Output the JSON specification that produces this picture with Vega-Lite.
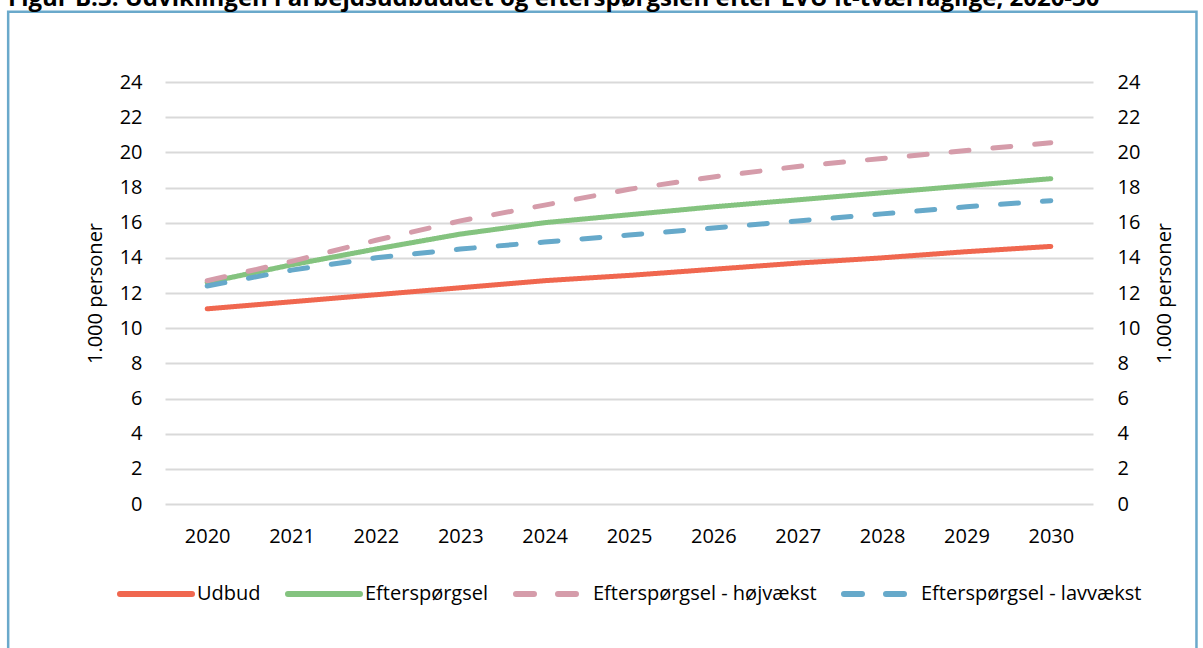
{
  "$schema": "https://vega.github.io/schema/vega-lite/v6.json",
  "width": 928,
  "height": 422,
  "autosize": {"type": "none"},
  "padding": {"left": 165, "top": 82, "right": 110, "bottom": 144},
  "background": "white",
  "config": {"view": {"stroke": null}, "font": "Open Sans", "legend": {"layout": {"bottom": {"anchor": "middle"}}}},
  "title": {
    "text": "Figur B.3: Udviklingen i arbejdsudbuddet og efterspørgslen efter LVU it-tværfaglige, 2020-30",
    "anchor": "start",
    "frame": "group",
    "font": "Open Sans",
    "fontSize": 24,
    "fontWeight": "bold",
    "color": "#000000",
    "baseline": "alphabetic",
    "dx": -157,
    "dy": 26,
    "offset": 6
  },
  "data": {
    "values": [
      {"series": "Udbud", "year": "2020", "value": 11.1},
      {"series": "Udbud", "year": "2021", "value": 11.5},
      {"series": "Udbud", "year": "2022", "value": 11.9},
      {"series": "Udbud", "year": "2023", "value": 12.3},
      {"series": "Udbud", "year": "2024", "value": 12.7},
      {"series": "Udbud", "year": "2025", "value": 13.0},
      {"series": "Udbud", "year": "2026", "value": 13.35},
      {"series": "Udbud", "year": "2027", "value": 13.7},
      {"series": "Udbud", "year": "2028", "value": 14.0},
      {"series": "Udbud", "year": "2029", "value": 14.35},
      {"series": "Udbud", "year": "2030", "value": 14.65},
      {"series": "Efterspørgsel", "year": "2020", "value": 12.6},
      {"series": "Efterspørgsel", "year": "2021", "value": 13.6},
      {"series": "Efterspørgsel", "year": "2022", "value": 14.5},
      {"series": "Efterspørgsel", "year": "2023", "value": 15.35},
      {"series": "Efterspørgsel", "year": "2024", "value": 16.0},
      {"series": "Efterspørgsel", "year": "2025", "value": 16.45},
      {"series": "Efterspørgsel", "year": "2026", "value": 16.9},
      {"series": "Efterspørgsel", "year": "2027", "value": 17.3},
      {"series": "Efterspørgsel", "year": "2028", "value": 17.7},
      {"series": "Efterspørgsel", "year": "2029", "value": 18.1},
      {"series": "Efterspørgsel", "year": "2030", "value": 18.5},
      {"series": "Efterspørgsel - højvækst", "year": "2020", "value": 12.7},
      {"series": "Efterspørgsel - højvækst", "year": "2021", "value": 13.8},
      {"series": "Efterspørgsel - højvækst", "year": "2022", "value": 15.0},
      {"series": "Efterspørgsel - højvækst", "year": "2023", "value": 16.1},
      {"series": "Efterspørgsel - højvækst", "year": "2024", "value": 17.0},
      {"series": "Efterspørgsel - højvækst", "year": "2025", "value": 17.9},
      {"series": "Efterspørgsel - højvækst", "year": "2026", "value": 18.6},
      {"series": "Efterspørgsel - højvækst", "year": "2027", "value": 19.2},
      {"series": "Efterspørgsel - højvækst", "year": "2028", "value": 19.65},
      {"series": "Efterspørgsel - højvækst", "year": "2029", "value": 20.1},
      {"series": "Efterspørgsel - højvækst", "year": "2030", "value": 20.55},
      {"series": "Efterspørgsel - lavvækst", "year": "2020", "value": 12.4},
      {"series": "Efterspørgsel - lavvækst", "year": "2021", "value": 13.3},
      {"series": "Efterspørgsel - lavvækst", "year": "2022", "value": 14.0},
      {"series": "Efterspørgsel - lavvækst", "year": "2023", "value": 14.5},
      {"series": "Efterspørgsel - lavvækst", "year": "2024", "value": 14.9},
      {"series": "Efterspørgsel - lavvækst", "year": "2025", "value": 15.3},
      {"series": "Efterspørgsel - lavvækst", "year": "2026", "value": 15.7},
      {"series": "Efterspørgsel - lavvækst", "year": "2027", "value": 16.1},
      {"series": "Efterspørgsel - lavvækst", "year": "2028", "value": 16.5},
      {"series": "Efterspørgsel - lavvækst", "year": "2029", "value": 16.9},
      {"series": "Efterspørgsel - lavvækst", "year": "2030", "value": 17.25}
    ]
  },
  "resolve": {"scale": {"x": "independent", "y": "independent"}},
  "layer": [
    {
      "data": {"values": [{}]},
      "mark": {"type": "rect", "fill": null, "fillOpacity": 0, "stroke": "#6AA9CB", "strokeWidth": 2.5, "clip": false},
      "encoding": {
        "x": {"datum": -0.169, "type": "quantitative", "scale": {"domain": [0, 1], "nice": false, "zero": false}, "axis": null},
        "x2": {"datum": 1.1115},
        "y": {"datum": 28, "type": "quantitative", "scale": {"domain": [0, 24], "nice": false, "zero": false}, "axis": null},
        "y2": {"datum": -12}
      }
    },
    {
      "mark": {"type": "line", "strokeWidth": 5, "strokeCap": "round", "strokeJoin": "round"},
      "encoding": {
        "x": {
          "field": "year", "type": "ordinal",
          "scale": {"type": "point", "padding": 0.5},
          "axis": {
            "title": null, "domain": false, "ticks": false, "grid": false,
            "labelAngle": 0, "labelFont": "Open Sans", "labelFontSize": 20, "labelColor": "#000000", "labelPadding": 22
          }
        },
        "y": {
          "field": "value", "type": "quantitative",
          "scale": {"domain": [0, 24], "nice": false},
          "axis": {
            "orient": "left", "values": [0, 2, 4, 6, 8, 10, 12, 14, 16, 18, 20, 22, 24],
            "domain": false, "ticks": false, "grid": true, "gridColor": "#D9D9D9", "gridWidth": 2,
            "labelFont": "Open Sans", "labelFontSize": 20, "labelColor": "#000000", "labelPadding": 23,
            "title": "1.000 personer", "titleFont": "Open Sans", "titleFontSize": 20, "titleFontWeight": "normal", "titleColor": "#000000", "titlePadding": 14
          }
        },
        "color": {
          "field": "series", "type": "nominal",
          "scale": {
            "domain": ["Udbud", "Efterspørgsel", "Efterspørgsel - højvækst", "Efterspørgsel - lavvækst"],
            "range": ["#F0674F", "#84C37F", "#D59CAA", "#66A9CA"]
          },
          "legend": {
            "title": null, "orient": "bottom", "direction": "horizontal", "symbolType": "stroke",
            "symbolSize": 5184, "symbolStrokeWidth": 6, "labelFont": "Open Sans", "labelFontSize": 20,
            "labelColor": "#000000", "labelOffset": 2, "columnPadding": 15, "labelLimit": 400, "offset": 9,
            "encode": {"symbols": {"update": {"strokeCap": {"value": "round"}}}}
          }
        },
        "strokeDash": {
          "field": "series", "type": "nominal",
          "scale": {
            "domain": ["Udbud", "Efterspørgsel", "Efterspørgsel - højvækst", "Efterspørgsel - lavvækst"],
            "range": [[1, 0], [1, 0], [18, 24], [18, 24]]
          },
          "legend": {
            "title": null, "orient": "bottom", "direction": "horizontal", "symbolType": "stroke",
            "symbolSize": 5184, "symbolStrokeWidth": 6, "labelFont": "Open Sans", "labelFontSize": 20,
            "labelColor": "#000000", "labelOffset": 2, "columnPadding": 15, "labelLimit": 400, "offset": 9,
            "encode": {"symbols": {"update": {"strokeCap": {"value": "round"}}}}
          }
        }
      }
    },
    {
      "mark": {"type": "line", "strokeOpacity": 0},
      "encoding": {
        "x": {"field": "year", "type": "ordinal", "scale": {"type": "point", "padding": 0.5}, "axis": null},
        "y": {
          "field": "value", "type": "quantitative",
          "scale": {"domain": [0, 24], "nice": false},
          "axis": {
            "orient": "right", "values": [0, 2, 4, 6, 8, 10, 12, 14, 16, 18, 20, 22, 24],
            "domain": false, "ticks": false, "grid": false,
            "labelFont": "Open Sans", "labelFontSize": 20, "labelColor": "#000000", "labelPadding": 24,
            "title": "1.000 personer", "titleAngle": 270, "titleFont": "Open Sans", "titleFontSize": 20, "titleFontWeight": "normal", "titleColor": "#000000", "titlePadding": 35
          }
        },
        "detail": {"field": "series", "type": "nominal"}
      }
    }
  ]
}
